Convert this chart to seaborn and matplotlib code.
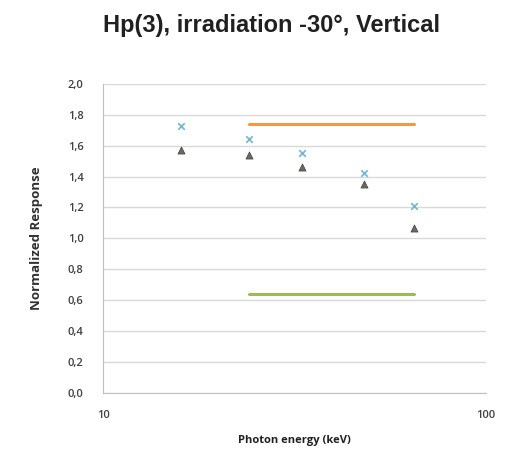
import numpy as np
import pandas as pd
import matplotlib
matplotlib.use('Agg')
import matplotlib.pyplot as plt
import matplotlib.ticker as mticker
import seaborn as sns

# Data
energy = [16, 24, 33, 48, 65]
resp_cross = [1.73, 1.64, 1.55, 1.42, 1.21]
resp_triangle = [1.57, 1.54, 1.46, 1.35, 1.07]
limit_energy = [24, 65]
upper_limit = [1.74, 1.74]
lower_limit = [0.64, 0.64]

sns.set_style('white')
plt.rcParams['font.family'] = ['Open Sans', 'DejaVu Sans']

fig = plt.figure(figsize=(5.23, 4.58), dpi=100)
ax = fig.add_axes([0.197, 0.142, 0.732, 0.675])

df_lim = pd.DataFrame({'energy': limit_energy, 'upper': upper_limit, 'lower': lower_limit})
sns.lineplot(data=df_lim, x='energy', y='upper', color='#f79646', linewidth=2.2, ax=ax)
sns.lineplot(data=df_lim, x='energy', y='lower', color='#9bbb59', linewidth=2.2, ax=ax)

df = pd.DataFrame({'energy': energy, 'cross': resp_cross, 'tri': resp_triangle})
sns.scatterplot(data=df, x='energy', y='cross', marker='x', color='#6fb8d0', s=22, linewidth=1.2, ax=ax)
sns.scatterplot(data=df, x='energy', y='tri', marker='^', color='#6a6a60', s=26, edgecolor='#404040', linewidth=0.5, ax=ax)

ax.set_xscale('log')
ax.set_xlim(10, 100)
ax.set_ylim(0, 2.0)
ax.set_yticks(np.arange(0, 2.01, 0.2))
ax.yaxis.set_major_formatter(mticker.FuncFormatter(lambda v, p: f'{v:.1f}'.replace('.', ',')))
ax.yaxis.set_minor_locator(mticker.MultipleLocator(0.04))
ax.xaxis.set_major_locator(mticker.FixedLocator([10, 100]))
ax.xaxis.set_major_formatter(mticker.FixedFormatter(['10', '100']))
ax.xaxis.set_minor_locator(mticker.LogLocator(base=10, subs=np.arange(2, 10)))
ax.xaxis.set_minor_formatter(mticker.NullFormatter())

ax.grid(axis='y', color='#d9d9d9', linewidth=1.0)
ax.set_axisbelow(True)
for side in ['top', 'right']:
    ax.spines[side].set_visible(False)
for side in ['left', 'bottom']:
    ax.spines[side].set_color('#bfbfbf')
ax.tick_params(axis='both', which='major', labelsize=8, colors='#bfbfbf', labelcolor='#404040', length=4)
ax.tick_params(axis='y', which='both', direction='out')
ax.tick_params(axis='y', which='major', pad=10)
ax.tick_params(axis='y', which='minor', colors='#c8c8c8', length=2)
ax.tick_params(axis='x', which='both', direction='inout')
ax.tick_params(axis='x', which='minor', colors='#c8c8c8', length=3)
ax.tick_params(axis='x', which='major', pad=10)
for lbl in ax.get_xticklabels() + ax.get_yticklabels():
    lbl.set_fontweight('semibold')

ax.set_xlabel('Photon energy (keV)', fontsize=8, fontweight='bold', color='#202020', labelpad=10)
ax.set_ylabel('Normalized Response', fontsize=9.5, fontweight='bold', color='#303030', labelpad=18)
fig.suptitle('Hp(3), irradiation -30°, Vertical', x=0.52, y=0.97, fontsize=17, fontweight='bold',
             color='#202020', family=['Liberation Sans', 'DejaVu Sans'])

fig.savefig('out.png', dpi=100, facecolor='white')
